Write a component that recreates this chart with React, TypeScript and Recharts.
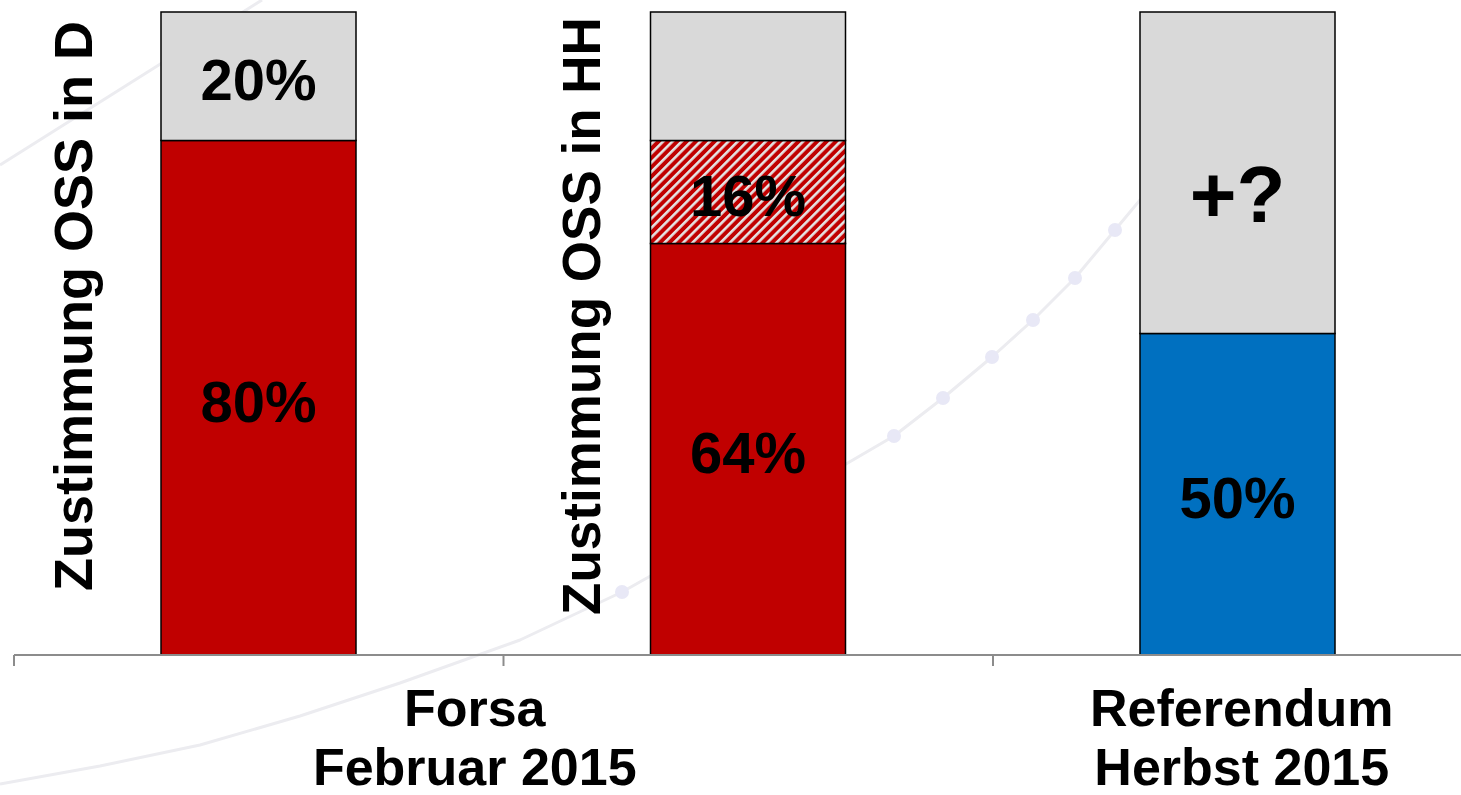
import { Bar, BarChart, Cell, Customized, LabelList, XAxis, YAxis } from "recharts";

const categories = ["Forsa D", "Forsa HH", "Referendum"];
const baseValues = [80, 64, 50];
const hatchValues = [0, 16, 0];
const restValues = [20, 20, 50];

const baseLabels = ["80%", "64%", "50%"];
const hatchLabels = ["", "16%", ""];
const restLabels = ["20%", "", "+?"];

const sideTitles = ["Zustimmung OSS in D", "Zustimmung OSS in HH", ""];
const axisLabels = [["Forsa", "Februar 2015"], [], ["Referendum", "Herbst 2015"]];

const data = categories.map((name, i) => ({
  name,
  base: baseValues[i],
  hatch: hatchValues[i],
  rest: restValues[i],
  baseLabel: baseLabels[i],
  hatchLabel: hatchLabels[i],
  restLabel: restLabels[i],
}));

const FONT = "'Liberation Sans', Arial, sans-serif";
const W = 1500;
const H = 795;
const LEFT = 14;
const RIGHT = 17.5;
const AXIS_Y = 655;
const BAND = (W - LEFT - RIGHT) / categories.length;

const baseColors = ["#C00000", "#C00000", "#0070C0"];
const labelShift = [216, 0, 4];
const titleX = [92, 600];
const titleY = [306, 316];

function AxisTick(props: any) {
  const { x, index } = props;
  const lines = axisLabels[index] || [];
  const cx = x + labelShift[index];
  return (
    <g>
      <line x1={x - BAND / 2} x2={x - BAND / 2} y1={AXIS_Y} y2={AXIS_Y + 11} stroke="#8c8c8c" strokeWidth={2} />
      {lines.map((t, i) => (
        <text
          key={t}
          x={cx}
          y={726 + i * 59}
          textAnchor="middle"
          fontFamily={FONT}
          fontWeight="bold"
          fontSize={52}
          fill="#000"
        >
          {t}
        </text>
      ))}
    </g>
  );
}

function BarLabel(props: any) {
  const { x, y, width, height, value } = props;
  if (!value) return null;
  const big = value === "+?";
  const fs = big ? 80 : 58;
  return (
    <text
      x={x + width / 2}
      y={y + height / 2 + fs * 0.36 + (big ? 20 : 3)}
      textAnchor="middle"
      fontFamily={FONT}
      fontWeight="bold"
      fontSize={fs}
      fill="#000"
    >
      {value}
    </text>
  );
}

function Extras() {
  return (
    <g>
      <defs>
        <pattern id="hatch" patternUnits="userSpaceOnUse" width={6.6} height={6.6} patternTransform="rotate(45)">
          <rect x={0} y={0} width={6.6} height={6.6} fill="#C00000" />
          <rect x={0} y={0} width={2.6} height={6.6} fill="#e4e4e4" />
        </pattern>
      </defs>
      {sideTitles.map((t, i) =>
        t ? (
          <text
            key={t}
            x={titleX[i]}
            y={titleY[i]}
            transform={`rotate(-90, ${titleX[i]}, ${titleY[i]})`}
            textAnchor="middle"
            fontFamily={FONT}
            fontWeight="bold"
            fontSize={i === 1 ? 53 : 54}
            fill="#000"
          >
            {t}
          </text>
        ) : null
      )}
    </g>
  );
}

const curve =
  "0,784 100,766 200,745 300,716 400,683 520,640 622,592 750,520 894,436 943,398 992,357 1033,320 1075,278 1115,230 1150,188";
const dots = [
  [622, 592],
  [894, 436],
  [943, 398],
  [992, 357],
  [1033, 320],
  [1075, 278],
  [1115, 230],
];

export default function App() {
  return (
    <div style={{ position: "absolute", left: 0, top: 0, width: 1461, height: 795, overflow: "hidden", background: "#fff" }}>
      <svg width={1461} height={795} style={{ position: "absolute", left: 0, top: 0 }}>
        <polyline points={curve} fill="none" stroke="#ececf0" strokeWidth={3} strokeLinejoin="round" />
        <path d="M 0 165 Q 120 90 262 0" fill="none" stroke="#ececf0" strokeWidth={3} />
        {dots.map(([cx, cy]) => (
          <circle key={cx} cx={cx} cy={cy} r={7} fill="#e8e8f6" />
        ))}
      </svg>
      <div style={{ position: "absolute", left: 0, top: 0 }}>
        <BarChart
          width={W}
          height={H}
          data={data}
          margin={{ top: 12, right: RIGHT, bottom: 40, left: LEFT }}
          barSize={195}
        >
          <Customized component={Extras} />
          <XAxis
            dataKey="name"
            height={100}
            interval={0}
            tickLine={false}
            axisLine={{ stroke: "#8c8c8c", strokeWidth: 2 }}
            tick={<AxisTick />}
          />
          <YAxis type="number" domain={[0, 100]} hide />
          <Bar dataKey="base" stackId="s" stroke="#000" strokeWidth={1.5} isAnimationActive={false}>
            {data.map((d, i) => (
              <Cell key={d.name} fill={baseColors[i]} />
            ))}
            <LabelList dataKey="baseLabel" content={<BarLabel />} />
          </Bar>
          <Bar dataKey="hatch" stackId="s" stroke="#000" strokeWidth={1.5} fill="url(#hatch)" isAnimationActive={false}>
            <LabelList dataKey="hatchLabel" content={<BarLabel />} />
          </Bar>
          <Bar dataKey="rest" stackId="s" stroke="#000" strokeWidth={1.5} fill="#D9D9D9" isAnimationActive={false}>
            <LabelList dataKey="restLabel" content={<BarLabel />} />
          </Bar>
        </BarChart>
      </div>
    </div>
  );
}
